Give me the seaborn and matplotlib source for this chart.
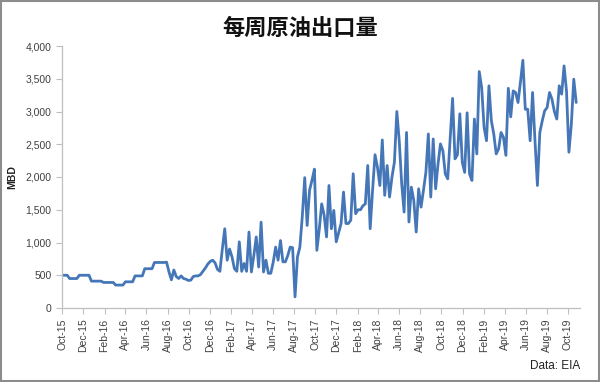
import numpy as np
import pandas as pd
import matplotlib
matplotlib.use("Agg")
import matplotlib.pyplot as plt
import matplotlib.dates as mdates
from matplotlib.ticker import FuncFormatter, MultipleLocator
from matplotlib.patches import Rectangle
import seaborn as sns

# Weekly US crude oil exports (thousand barrels per day)
start_date = "2015-10-02"
exports_2015_2016 = [
    500, 500, 500, 450, 450, 450, 450, 500, 500, 500, 500, 500,
    410, 410, 410, 410, 410, 390, 390, 390, 390, 390, 350, 350, 350, 350,
    400, 400, 400, 400, 490, 490, 490, 490, 600, 600, 600, 600,
    695, 695, 695, 695, 695, 700, 550, 430, 580, 480, 450, 490, 450, 440,
    420, 425, 480, 490, 490, 510, 560, 610, 670, 710, 730, 690, 590, 560,
]
exports_2017 = [
    900, 1210, 730, 900, 780, 600, 560, 1010, 560, 680, 560, 1160, 550,
    800, 1085, 625, 1310, 550, 730, 530, 530, 700, 930, 730, 1030, 705,
    705, 800, 930, 920, 170, 780, 930, 1400, 1990, 1260, 1800, 1950, 2120,
    880, 1200, 1590, 1420, 1085, 1870, 1210, 1490, 1010, 1150, 1290, 1770,
    1290, 1290, 1340,
]
exports_2018 = [
    2050, 1440, 1500, 1500, 1560, 1590, 2175, 1210, 1800, 2340, 2150, 1870,
    2566, 1720, 2175, 1694, 2000, 2226, 3000, 2550, 1900, 1465, 2680, 1313,
    1845, 1640, 1160, 1820, 1540, 1800, 2075, 2657, 1694, 2581, 1820, 2200,
    2505, 2400, 2047, 1972, 2600, 3200, 2277, 2340, 2965, 2226, 2070, 2980,
    2047, 1947, 2885, 2353,
]
exports_2019 = [
    3610, 3365, 2756, 2554, 3392, 2858, 2655, 2353, 2430, 2680, 2605, 2330,
    3355, 2918, 3315, 3290, 3137, 3450, 3782, 3035, 3035, 2554, 3290, 2554,
    1870, 2680, 2858, 3012, 3060, 3290, 3188, 3000, 2885, 3392, 3265, 3696,
    3315, 2378, 2807, 3494, 3138,
]
values = exports_2015_2016 + exports_2017 + exports_2018 + exports_2019
dates = pd.date_range(start_date, periods=len(values), freq="7D")
df = pd.DataFrame({"date": dates, "MBD": values})

title = "每周原油出口量"
y_label = "MBD"
source_note = "Data: EIA"

sns.set_style("white")
plt.rcParams["font.family"] = ["Liberation Sans", "DejaVu Sans"]

fig = plt.figure(figsize=(6.0, 3.82), dpi=100)
ax = fig.add_axes([62 / 600, 1 - 308 / 382, (580 - 62) / 600, (308 - 46) / 382])

sns.lineplot(data=df, x="date", y="MBD", ax=ax, color="#4577B8", linewidth=2.0)

ax.set_ylim(0, 4000)
ax.yaxis.set_major_locator(MultipleLocator(500))
ax.yaxis.set_major_formatter(FuncFormatter(lambda v, p: f"{int(v):,}"))
ax.set_xlim(pd.Timestamp("2015-10-01"), pd.Timestamp("2019-11-05"))
ax.xaxis.set_major_locator(mdates.MonthLocator(bymonth=[2, 4, 6, 8, 10, 12]))
ax.xaxis.set_major_formatter(mdates.DateFormatter("%b-%y"))
for lbl in ax.get_xticklabels():
    lbl.set_rotation(90)

ax.tick_params(axis="both", labelsize=7.5, colors="#404040", length=4, width=0.8,
               direction="out", bottom=True, left=True)
ax.tick_params(axis="x", color="#BFBFBF")
ax.tick_params(axis="y", color="#BFBFBF")
for s in ["top", "right"]:
    ax.spines[s].set_visible(False)
for s in ["left", "bottom"]:
    ax.spines[s].set_color("#BFBFBF")
    ax.spines[s].set_linewidth(0.9)

ax.set_xlabel("")
ax.set_ylabel(y_label, fontsize=7.5, fontweight="bold", color="#222222", labelpad=6)

fig.text(0.5, 1 - 28 / 382, title, ha="center", va="center", fontsize=16,
         fontweight="bold", family=["Noto Sans CJK SC", "DejaVu Sans"], color="#111111")
fig.text(1 - 20 / 600, 1 - 366 / 382, source_note, ha="right", va="center",
         fontsize=8.5, color="#222222")

fig.patches.append(Rectangle((0.002, 0.003), 0.996, 0.994, transform=fig.transFigure,
                             fill=False, edgecolor="#8C8C8C", linewidth=1.5))

fig.savefig("out.png", dpi=100)
